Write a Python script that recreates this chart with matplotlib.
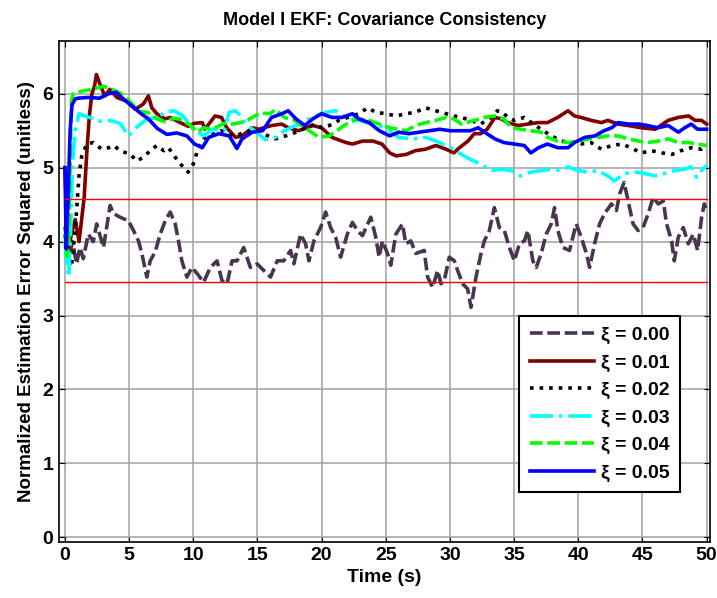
import numpy as np
import matplotlib
matplotlib.use('Agg')
import matplotlib.pyplot as plt

plt.rcParams['font.family'] = ['Liberation Sans', 'DejaVu Sans']
plt.rcParams['font.weight'] = 'bold'

# xi = 0.00
t0 = [0, 0.3, 0.6, 0.9, 1.17, 1.43, 1.82, 2.21, 2.47, 3.0,
      3.52, 3.78, 4.3, 4.95, 5.34, 5.73, 5.99, 6.38, 6.64, 7.03,
      7.42, 7.81, 8.2, 8.59, 8.85, 9.11, 9.5, 9.9, 10.29, 10.8,
      11.33, 11.85, 12.24, 12.63, 13.02, 13.41, 13.93, 14.45, 14.97, 15.5,
      16.02, 16.54, 17.05, 17.58, 17.84, 18.36, 18.75, 19.01, 19.4, 19.92,
      20.31, 20.7, 21.09, 21.48, 22.0, 22.4, 22.79, 23.18, 23.83, 24.22,
      24.48, 24.74, 25.13, 25.39, 25.78, 26.3, 26.56, 26.95, 27.34, 27.99,
      28.26, 28.65, 29.04, 29.3, 29.55, 29.95, 30.34, 30.6, 30.99, 31.38,
      31.64, 32.03, 32.42, 32.68, 33.07, 33.46, 33.85, 34.24, 34.63, 35.02,
      35.41, 35.8, 36.07, 36.46, 36.72, 37.11, 37.5, 37.89, 38.15, 38.41,
      38.8, 39.32, 39.84, 40.23, 40.63, 40.88, 41.27, 41.66, 42.05, 42.58,
      42.97, 43.23, 43.57, 43.88, 44.27, 44.66, 45.05, 45.45, 45.84, 46.23,
      46.62, 46.88, 47.27, 47.48, 47.79, 48.18, 48.57, 48.96, 49.3, 49.61,
      49.82, 50.0]
y0 = [4.2, 3.8, 4.0, 3.7, 3.92, 3.77, 4.1, 4.0, 4.24, 3.92,
      4.49, 4.38, 4.33, 4.28, 4.15, 4.01, 3.84, 3.52, 3.74, 3.86,
      4.1, 4.28, 4.4, 4.24, 4.01, 3.74, 3.52, 3.65, 3.57, 3.45,
      3.65, 3.74, 3.47, 3.43, 3.74, 3.74, 3.92, 3.65, 3.70, 3.61,
      3.52, 3.74, 3.74, 3.88, 3.7, 4.1, 3.97, 3.74, 4.01, 4.19,
      4.40, 4.19, 4.06, 3.79, 4.1, 4.26, 4.15, 4.08, 4.33, 4.06,
      3.79, 4.01, 3.84, 3.68, 4.1, 4.24, 3.97, 4.01, 3.84, 3.88,
      3.52, 3.38, 3.61, 3.43, 3.47, 3.79, 3.74, 3.61, 3.43, 3.36,
      3.11, 3.52, 3.84, 4.01, 4.15, 4.46, 4.19, 4.15, 3.92, 3.74,
      3.97, 4.01, 4.15, 3.74, 3.65, 3.84, 4.1, 4.24, 4.46, 4.15,
      3.92, 3.88, 4.24, 4.06, 3.84, 3.65, 3.97, 4.24, 4.38, 4.51,
      4.42, 4.65, 4.80, 4.55, 4.24, 4.15, 4.19, 4.38, 4.60, 4.51,
      4.55, 4.24, 4.01, 3.74, 4.06, 4.19, 3.97, 4.1, 3.88, 4.33,
      4.51, 4.42]

# xi = 0.01
t1 = [0, 0.15, 0.3, 0.5, 0.8, 1.1, 1.3, 1.5, 1.7, 1.9,
      2.1, 2.3, 2.45, 2.73, 3.1, 3.5, 4.04, 4.8, 5.47, 6.1,
      6.5, 6.77, 7.16, 7.8, 8.2, 8.98, 9.6, 10.1, 10.7, 10.9,
      11.7, 12.2, 12.6, 13.3, 13.8, 14.6, 15.1, 16.1, 16.9, 17.4,
      18.2, 19.3, 20.0, 20.8, 21.9, 22.4, 23.2, 24.0, 24.7, 25.3,
      25.8, 26.6, 27.3, 28.1, 28.9, 29.7, 30.3, 30.6, 31.4, 31.9,
      32.4, 32.9, 33.5, 34.0, 34.5, 35.3, 36.1, 36.85, 37.6, 38.4,
      39.2, 39.7, 40.2, 41.0, 41.8, 42.3, 43.1, 43.9, 44.9, 46.0,
      47.0, 47.8, 48.6, 49.1, 49.6, 50.0]
y1 = [5.0, 4.3, 3.9, 4.1, 4.3, 4.0, 4.3, 4.6, 5.2, 5.7,
      6.0, 6.1, 6.26, 6.13, 5.97, 6.06, 5.95, 5.9, 5.79, 5.86,
      5.97, 5.81, 5.73, 5.66, 5.68, 5.61, 5.56, 5.6, 5.61, 5.52,
      5.7, 5.68, 5.54, 5.41, 5.43, 5.54, 5.52, 5.57, 5.59, 5.54,
      5.5, 5.57, 5.54, 5.41, 5.34, 5.32, 5.36, 5.36, 5.32, 5.2,
      5.16, 5.18, 5.23, 5.25, 5.3, 5.25, 5.2, 5.25, 5.36, 5.46,
      5.46, 5.52, 5.68, 5.66, 5.61, 5.57, 5.59, 5.61, 5.61, 5.68,
      5.77, 5.7, 5.68, 5.64, 5.61, 5.64, 5.59, 5.57, 5.54, 5.52,
      5.64, 5.68, 5.7, 5.64, 5.64, 5.59]

# xi = 0.02
t2 = [0, 0.3, 0.5, 0.7, 0.9, 1.1, 1.3, 1.7, 2.2, 2.87,
      3.4, 3.8, 4.3, 5.1, 5.6, 6.1, 6.64, 7.16, 7.7, 8.07,
      8.6, 9.1, 9.6, 10.0, 10.4, 10.9, 11.5, 12.2, 12.8, 13.3,
      14.0, 14.6, 15.4, 16.4, 17.2, 18.0, 18.75, 19.5, 20.0, 20.6,
      21.35, 22.4, 22.9, 23.6, 24.2, 25.0, 25.8, 26.6, 27.3, 28.1,
      28.9, 29.7, 30.3, 30.9, 31.6, 32.4, 33.2, 33.7, 34.1, 34.5,
      35.0, 35.8, 36.5, 37.1, 37.9, 38.7, 39.5, 40.2, 41.0, 41.8,
      42.6, 43.4, 44.1, 44.9, 45.7, 46.5, 47.3, 48.0, 48.8, 49.6,
      50.0]
y2 = [4.1, 3.7, 3.65, 4.0, 4.4, 4.9, 5.15, 5.32, 5.34, 5.25,
      5.27, 5.3, 5.23, 5.18, 5.09, 5.14, 5.23, 5.3, 5.23, 5.27,
      5.14, 5.03, 4.94, 5.05, 5.27, 5.41, 5.45, 5.5, 5.45, 5.43,
      5.48, 5.5, 5.46, 5.39, 5.43, 5.48, 5.54, 5.59, 5.54, 5.57,
      5.64, 5.7, 5.73, 5.81, 5.75, 5.73, 5.7, 5.73, 5.75, 5.81,
      5.77, 5.73, 5.7, 5.68, 5.64, 5.59, 5.68, 5.77, 5.75, 5.68,
      5.64, 5.68, 5.59, 5.52, 5.43, 5.36, 5.34, 5.32, 5.34, 5.25,
      5.3, 5.32, 5.27, 5.2, 5.23, 5.2, 5.18, 5.23, 5.27, 5.25,
      5.3]

# xi = 0.03
t3 = [0, 0.15, 0.3, 0.45, 0.6, 0.8, 1.1, 1.56, 2.1, 2.7,
      3.5, 4.3, 4.95, 5.6, 6.4, 7.2, 7.8, 8.5, 9.2, 10.0,
      10.8, 11.5, 12.4, 12.8, 13.3, 13.8, 14.1, 14.9, 15.6, 16.4,
      17.1, 18.2, 19.3, 20.3, 21.1, 21.9, 22.9, 24.0, 25.0, 26.0,
      27.1, 28.1, 29.2, 30.1, 30.9, 31.6, 32.4, 33.2, 34.0, 34.8,
      35.5, 36.3, 37.1, 37.9, 38.7, 39.2, 40.0, 40.8, 41.5, 42.3,
      42.8, 43.6, 44.4, 45.2, 46.0, 46.7, 47.5, 48.3, 48.8, 49.2,
      49.6, 50.0]
y3 = [4.0, 3.7, 3.52, 4.2, 5.1, 5.5, 5.73, 5.7, 5.67, 5.63,
      5.64, 5.6, 5.43, 5.55, 5.66, 5.68, 5.75, 5.77, 5.7, 5.52,
      5.43, 5.52, 5.5, 5.75, 5.77, 5.68, 5.59, 5.48, 5.38, 5.41,
      5.5, 5.59, 5.68, 5.75, 5.77, 5.68, 5.64, 5.59, 5.54, 5.41,
      5.39, 5.41, 5.34, 5.27, 5.18, 5.11, 5.05, 4.96, 4.98, 4.96,
      4.89, 4.94, 4.96, 4.98, 4.96, 5.01, 4.96, 4.94, 4.96, 4.89,
      4.82, 4.92, 4.94, 4.92, 4.89, 4.92, 4.96, 4.98, 5.01, 4.87,
      4.96, 5.03]

# xi = 0.04
t4 = [0, 0.15, 0.3, 0.4, 0.5, 0.65, 1.0, 1.4, 1.8, 2.2,
      2.5, 3.0, 3.8, 4.3, 5.1, 5.7, 6.4, 7.2, 7.8, 8.5,
      9.1, 9.8, 10.3, 10.8, 11.5, 12.4, 13.1, 13.9, 14.4, 15.2,
      16.0, 16.4, 17.1, 17.9, 18.7, 19.8, 20.6, 21.35, 22.1, 22.9,
      23.7, 24.5, 25.3, 26.0, 26.6, 27.3, 28.1, 28.9, 29.7, 30.3,
      30.9, 31.9, 32.7, 33.5, 34.2, 34.8, 35.5, 36.3, 37.1, 37.6,
      38.4, 39.2, 40.0, 40.8, 41.5, 42.3, 43.1, 43.9, 44.7, 45.4,
      46.2, 47.0, 47.8, 48.6, 49.3, 50.0]
y4 = [4.1, 3.8, 4.0, 5.0, 5.9, 6.0, 6.02, 6.04, 6.05, 6.06,
      6.08, 6.1, 6.05, 6.01, 5.89, 5.76, 5.75, 5.66, 5.62, 5.67,
      5.65, 5.57, 5.48, 5.54, 5.52, 5.6, 5.59, 5.62, 5.66, 5.74,
      5.73, 5.79, 5.68, 5.64, 5.54, 5.41, 5.43, 5.52, 5.61, 5.66,
      5.64, 5.59, 5.54, 5.52, 5.5, 5.57, 5.61, 5.64, 5.68, 5.66,
      5.59, 5.64, 5.68, 5.7, 5.66, 5.54, 5.52, 5.5, 5.48, 5.41,
      5.36, 5.34, 5.36, 5.39, 5.41, 5.43, 5.43, 5.39, 5.36, 5.34,
      5.36, 5.39, 5.34, 5.34, 5.32, 5.3]

# xi = 0.05
t5 = [0, 0.1, 0.25, 0.4, 0.55, 0.8, 1.0, 1.8, 2.7, 3.4,
      4.0, 4.55, 5.2, 5.86, 6.5, 7.2, 7.95, 8.7, 9.5, 10.1,
      10.7, 11.2, 12.0, 12.8, 13.4, 13.8, 14.6, 15.4, 16.1, 16.9,
      17.4, 18.0, 18.7, 19.3, 20.0, 20.8, 21.6, 22.4, 22.9, 23.7,
      24.5, 25.3, 26.0, 26.8, 27.6, 28.4, 29.2, 30.0, 30.9, 31.6,
      32.2, 32.7, 33.5, 34.2, 35.0, 35.8, 36.3, 36.9, 37.6, 38.4,
      39.2, 39.7, 40.5, 41.3, 42.0, 42.6, 43.1, 43.9, 44.7, 45.4,
      46.2, 47.0, 47.8, 48.3, 48.8, 49.3, 50.0]
y5 = [5.0, 3.9, 4.6, 5.5, 5.85, 5.93, 5.94, 5.95, 5.94, 6.0,
      6.02, 5.93, 5.84, 5.74, 5.66, 5.53, 5.45, 5.47, 5.43, 5.32,
      5.27, 5.41, 5.46, 5.43, 5.26, 5.39, 5.48, 5.5, 5.68, 5.73,
      5.77, 5.66, 5.57, 5.66, 5.73, 5.68, 5.68, 5.73, 5.66, 5.61,
      5.5, 5.43, 5.48, 5.46, 5.48, 5.5, 5.52, 5.5, 5.5, 5.5,
      5.54, 5.48, 5.39, 5.34, 5.32, 5.3, 5.2, 5.27, 5.32, 5.27,
      5.27, 5.34, 5.41, 5.43, 5.5, 5.54, 5.61, 5.59, 5.59, 5.57,
      5.54, 5.57, 5.48, 5.54, 5.59, 5.52, 5.52]

# 95% consistency bounds
bounds = [4.57, 3.46]
labels = ['\u03be = 0.00', '\u03be = 0.01', '\u03be = 0.02',
          '\u03be = 0.03', '\u03be = 0.04', '\u03be = 0.05']

fig = plt.figure(figsize=(7.17, 5.98), dpi=100)
ax = fig.add_axes([0.082, 0.094, 0.908, 0.837])

lw = 2.6
ax.plot(t0, y0, color='#4a3550', lw=lw, dashes=(3.5, 1.3), label=labels[0])
ax.plot(t1, y1, '-', color='#800000', lw=lw, label=labels[1])
ax.plot(t2, y2, ':', color='black', lw=lw, label=labels[2])
ax.plot(t3, y3, '-.', color='#00ffff', lw=lw, label=labels[3])
ax.plot(t4, y4, color='#00ff00', lw=lw, dashes=(3.5, 1.3), label=labels[4])
ax.plot(t5, y5, '-', color='#0000ff', lw=lw, label=labels[5])
for b in bounds:
    ax.plot([0, 50], [b, b], color='red', lw=1)

ax.set_xlim(-0.48, 50.25)
ax.set_ylim(-0.06, 6.71)
ax.set_xticks(np.arange(0, 51, 5))
ax.set_yticks(np.arange(0, 7, 1))
ax.grid(True, color='#a8a8a8', lw=1.2)
ax.set_axisbelow(True)
ax.tick_params(direction='in', length=4, top=True, right=True, labelsize=14, pad=4)
for s in ax.spines.values():
    s.set_linewidth(1.2)

ax.set_title('Model I EKF: Covariance Consistency', fontsize=13, fontweight='bold', pad=12)
ax.set_xlabel('Time (s)', fontsize=14, fontweight='bold', labelpad=3)
ax.set_ylabel('Normalized Estimation Error Squared (unitless)', fontsize=13.5, fontweight='bold', labelpad=5)

leg = ax.legend(loc='lower right', bbox_to_anchor=(0.954, 0.099), borderaxespad=0,
                fontsize=14, fancybox=False, framealpha=1, edgecolor='black',
                handlelength=3.3, handletextpad=0.35, labelspacing=0.5, borderpad=0.55)
leg.get_frame().set_linewidth(1.5)

fig.savefig('out.png', dpi=100)
